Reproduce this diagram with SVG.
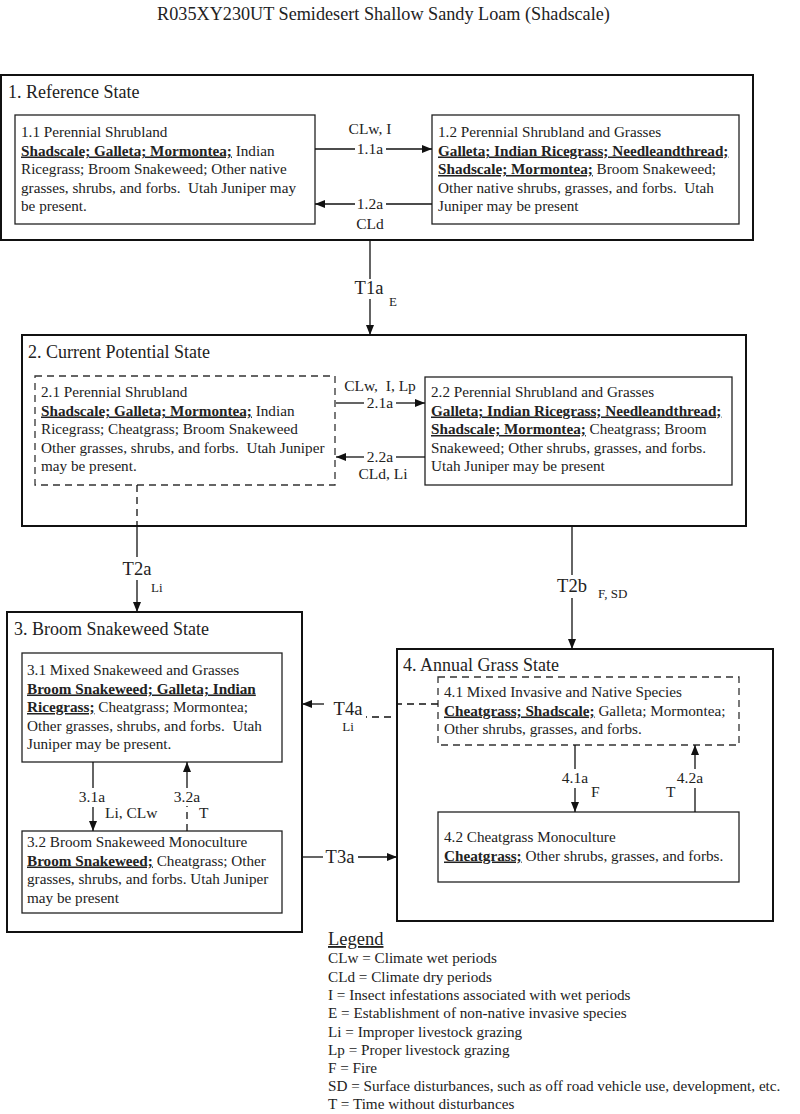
<svg xmlns="http://www.w3.org/2000/svg" width="800" height="1114" viewBox="0 0 800 1114">
<defs>
<marker id="ah" viewBox="0 0 10 8" refX="10" refY="4" markerWidth="10" markerHeight="8" markerUnits="userSpaceOnUse" orient="auto">
<path d="M0,0 L10,4 L0,8 Z" fill="#111"/>
</marker>
</defs>
<style>
text{font-family:"Liberation Serif","Times New Roman",serif;fill:#222;}
.title{font-size:18.2px;}
.st{font-size:18px;}
.bx{font-size:15.2px;}
.lb{font-size:15.5px;}
.tl{font-size:18.5px;}
.sm{font-size:13px;}
.b{font-weight:bold;text-decoration:underline;}
.outer{fill:#fff;stroke:#111;stroke-width:2;}
.inner{fill:#fff;stroke:#222;stroke-width:1.3;}
.dash{fill:#fff;stroke:#333;stroke-width:1.3;stroke-dasharray:7,5;}
.c{fill:none;stroke:#111;stroke-width:1.3;}
.cd{fill:none;stroke:#111;stroke-width:1.3;stroke-dasharray:7,5;}
.mid{text-anchor:middle;}
</style>
<rect width="800" height="1114" fill="#fff"/>
<text class="title" x="383.5" y="20" text-anchor="middle">R035XY230UT Semidesert Shallow Sandy Loam (Shadscale)</text>

<g id="state1">
<rect class="outer" x="1" y="75" width="752" height="165"/>
<text class="st" x="8" y="98">1. Reference State</text>
</g>
<g id="box1-1">
<rect class="inner" x="15" y="115" width="300" height="109"/>
<text class="bx" x="21" y="137">1.1 Perennial Shrubland<tspan x="21" dy="18.5"><tspan class="b">Shadscale; Galleta; Mormontea;</tspan> Indian</tspan><tspan x="21" dy="18.5">Ricegrass; Broom Snakeweed; Other native</tspan><tspan x="21" dy="18.5">grasses, shrubs, and forbs.&#160; Utah Juniper may</tspan><tspan x="21" dy="18.5">be present.</tspan></text>
</g>
<g id="box1-2">
<rect class="inner" x="432" y="115" width="307" height="109"/>
<text class="bx" x="438" y="137">1.2 Perennial Shrubland and Grasses<tspan x="438" dy="18.5" class="b">Galleta; Indian Ricegrass; Needleandthread;</tspan><tspan x="438" dy="18.5"><tspan class="b">Shadscale; Mormontea;</tspan> Broom Snakeweed;</tspan><tspan x="438" dy="18.5">Other native shrubs, grasses, and forbs.&#160; Utah</tspan><tspan x="438" dy="18.5">Juniper may be present</tspan></text>
</g>

<g id="state2">
<rect class="outer" x="22" y="335" width="724" height="191"/>
<text class="st" x="28" y="358">2. Current Potential State</text>
</g>
<g id="box2-1">
<rect class="dash" x="35" y="376" width="300" height="109"/>
<text class="bx" x="41" y="397">2.1 Perennial Shrubland<tspan x="41" dy="18.5"><tspan class="b">Shadscale; Galleta; Mormontea;</tspan> Indian</tspan><tspan x="41" dy="18.5">Ricegrass; Cheatgrass; Broom Snakeweed</tspan><tspan x="41" dy="18.5">Other grasses, shrubs, and forbs.&#160; Utah Juniper</tspan><tspan x="41" dy="18.5">may be present.</tspan></text>
</g>
<g id="box2-2">
<rect class="inner" x="425" y="377" width="307" height="108"/>
<text class="bx" x="431" y="397">2.2 Perennial Shrubland and Grasses<tspan x="431" dy="18.5" class="b">Galleta; Indian Ricegrass; Needleandthread;</tspan><tspan x="431" dy="18.5"><tspan class="b">Shadscale; Mormontea;</tspan> Cheatgrass; Broom</tspan><tspan x="431" dy="18.5">Snakeweed; Other shrubs, grasses, and forbs.</tspan><tspan x="431" dy="18.5">Utah Juniper may be present</tspan></text>
</g>

<g id="state3">
<rect class="outer" x="7" y="612" width="295" height="320"/>
<text class="st" x="14" y="635">3. Broom Snakeweed State</text>
</g>
<g id="box3-1">
<rect class="inner" x="22" y="653" width="260" height="109"/>
<text class="bx" x="27" y="675">3.1 Mixed Snakeweed and Grasses<tspan x="27" dy="18.5" class="b">Broom Snakeweed; Galleta; Indian</tspan><tspan x="27" dy="18.5"><tspan class="b">Ricegrass;</tspan> Cheatgrass; Mormontea;</tspan><tspan x="27" dy="18.5">Other grasses, shrubs, and forbs.&#160; Utah</tspan><tspan x="27" dy="18.5">Juniper may be present.</tspan></text>
</g>
<g id="box3-2">
<rect class="inner" x="22" y="831" width="260" height="82"/>
<text class="bx" x="27" y="847">3.2 Broom Snakeweed Monoculture<tspan x="27" dy="18.5"><tspan class="b">Broom Snakeweed;</tspan> Cheatgrass; Other</tspan><tspan x="27" dy="18.5">grasses, shrubs, and forbs. Utah Juniper</tspan><tspan x="27" dy="18.5">may be present</tspan></text>
</g>

<g id="state4">
<rect class="outer" x="397" y="649" width="376" height="272"/>
<text class="st" x="403" y="671">4. Annual Grass State</text>
</g>
<g id="box4-1">
<rect class="dash" x="438" y="677" width="301" height="68"/>
<text class="bx" x="444" y="697">4.1 Mixed Invasive and Native Species<tspan x="444" dy="18.5"><tspan class="b">Cheatgrass; Shadscale;</tspan> Galleta; Mormontea;</tspan><tspan x="444" dy="18.5">Other shrubs, grasses, and forbs.</tspan></text>
</g>
<g id="box4-2">
<rect class="inner" x="438" y="812" width="301" height="70"/>
<text class="bx" x="444" y="842">4.2 Cheatgrass Monoculture<tspan x="444" dy="18.5"><tspan class="b">Cheatgrass;</tspan> Other shrubs, grasses, and forbs.</tspan></text>
</g>

<g id="connectors">
<path class="c" d="M315,149 H355"/>
<path class="c" d="M386,149 H432" marker-end="url(#ah)"/>
<text class="lb mid" x="370" y="134">CLw, I</text>
<text class="lb mid" x="370" y="154">1.1a</text>
<path class="c" d="M432,204 H386"/>
<path class="c" d="M355,204 H315" marker-end="url(#ah)"/>
<text class="lb mid" x="370" y="209">1.2a</text>
<text class="lb mid" x="370" y="229">CLd</text>
<path class="c" d="M370,240 V279"/>
<path class="c" d="M370,299 V335" marker-end="url(#ah)"/>
<text class="tl mid" x="369" y="294">T1a</text>
<text class="sm" x="389" y="306">E</text>
<path class="c" d="M336,403 H364"/>
<path class="c" d="M396,403 H425" marker-end="url(#ah)"/>
<text class="lb mid" x="380" y="391">CLw,&#160; I, Lp</text>
<text class="lb mid" x="380" y="408">2.1a</text>
<path class="c" d="M425,457 H396"/>
<path class="c" d="M364,457 H336" marker-end="url(#ah)"/>
<text class="lb mid" x="380" y="462">2.2a</text>
<text class="lb mid" x="383" y="479">CLd, Li</text>
<path class="cd" d="M137,485 V526"/>
<path class="c" d="M137,526 V557"/>
<path class="c" d="M137,580 V612" marker-end="url(#ah)"/>
<text class="tl mid" x="137" y="575">T2a</text>
<text class="sm" x="151" y="592">Li</text>
<path class="c" d="M572,526 V575"/>
<path class="c" d="M572,598 V649" marker-end="url(#ah)"/>
<text class="tl mid" x="572" y="592">T2b</text>
<text class="sm" x="598" y="598">F, SD</text>
<path class="c" d="M93,762 V788"/>
<path class="c" d="M93,807 V831" marker-end="url(#ah)"/>
<text class="lb mid" x="92" y="802">3.1a</text>
<text class="lb" x="105" y="818">Li, CLw</text>
<path class="cd" d="M187,831 V806"/>
<path class="c" d="M187,788 V762" marker-end="url(#ah)"/>
<text class="lb mid" x="187" y="802">3.2a</text>
<text class="lb" x="199" y="818">T</text>
<path class="cd" d="M438,704 H397 V717 H366"/>
<path class="c" d="M324,704 H302" marker-end="url(#ah)"/>
<text class="tl mid" x="348" y="715">T4a</text>
<text class="sm mid" x="348" y="731">Li</text>
<path class="c" d="M302,857 H323"/>
<path class="c" d="M358,857 H397" marker-end="url(#ah)"/>
<text class="tl mid" x="340" y="863">T3a</text>
<path class="c" d="M575,745 V769"/>
<path class="c" d="M575,788 V812" marker-end="url(#ah)"/>
<text class="lb mid" x="575" y="783">4.1a</text>
<text class="lb" x="591" y="797">F</text>
<path class="c" d="M695,812 V788"/>
<path class="c" d="M695,769 V745" marker-end="url(#ah)"/>
<text class="lb mid" x="690" y="783">4.2a</text>
<text class="lb" x="666" y="797">T</text>
</g>

<g id="legend">
<text x="328" y="945" style="font-size:18.5px;text-decoration:underline;">Legend</text>
<text class="bx" x="328" y="963">CLw = Climate wet periods</text>
<text class="bx" x="328" y="981.5">CLd = Climate dry periods</text>
<text class="bx" x="328" y="1000">I = Insect infestations associated with wet periods</text>
<text class="bx" x="328" y="1018">E = Establishment of non-native invasive species</text>
<text class="bx" x="328" y="1036.5">Li = Improper livestock grazing</text>
<text class="bx" x="328" y="1054.5">Lp = Proper livestock grazing</text>
<text class="bx" x="328" y="1072.5">F = Fire</text>
<text class="bx" x="328" y="1090.5">SD = Surface disturbances, such as off road vehicle use, development, etc.</text>
<text class="bx" x="328" y="1108.5">T = Time without disturbances</text>
</g>
</svg>
